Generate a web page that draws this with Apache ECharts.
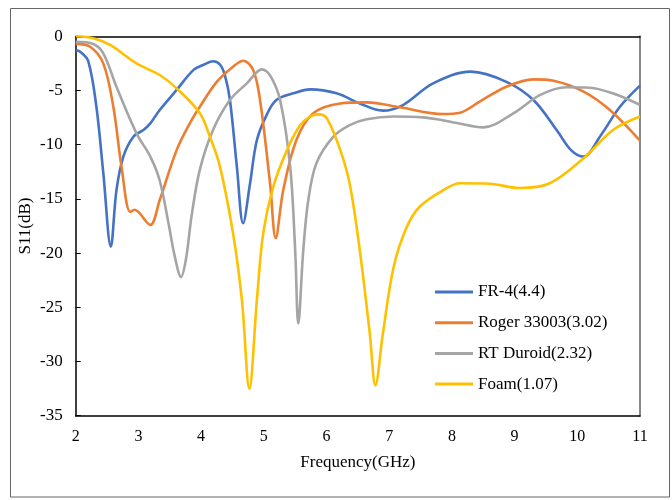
<!DOCTYPE html>
<html>
<head>
<meta charset="utf-8">
<script src="https://cdn.jsdelivr.net/npm/echarts@6/dist/echarts.min.js"></script>
<style>html,body{margin:0;padding:0;background:#fff}#c{width:672px;height:500px}</style>
</head>
<body>
<div id="c"></div>
<script>
var seriesNames = ['FR-4(4.4)', 'Roger 33003(3.02)', 'RT Duroid(2.32)', 'Foam(1.07)'];
var xTicks = [2, 3, 4, 5, 6, 7, 8, 9, 10, 11];
var yTicks = [0, -5, -10, -15, -20, -25, -30, -35];

var fr4Freq = [2, 2.07, 2.2, 2.33, 2.44, 2.56, 2.65, 2.76, 2.92, 3.08, 3.19, 3.34, 3.61, 3.88, 4.05, 4.19, 4.3, 4.38, 4.46, 4.57, 4.67, 4.78, 4.89, 5.05, 5.2, 5.47, 5.74, 6.16, 6.53, 6.9, 7.22, 7.7, 8.3, 8.87, 9.3, 9.67, 9.9, 10.1, 10.36, 10.68, 11];
var fr4Val  = [-1.3, -1.42, -2.3, -6.5, -12.6, -19.4, -14.2, -11.1, -9.26, -8.64, -8.03, -6.8, -4.95, -3.1, -2.6, -2.3, -2.6, -3.6, -5.88, -12, -17.25, -13.6, -9.57, -7.2, -5.88, -5.26, -4.9, -5.26, -6.2, -6.86, -6.34, -4.34, -3.26, -4.2, -5.88, -8.64, -10.5, -11.1, -9.26, -6.5, -4.55];

var rogFreq = [2, 2.23, 2.44, 2.6, 2.73, 2.87, 2.94, 3.0, 3.19, 3.34, 3.61, 3.82, 3.98, 4.25, 4.51, 4.67, 4.83, 4.94, 5.1, 5.19, 5.31, 5.52, 5.79, 6.22, 6.64, 7.17, 7.86, 8.13, 8.45, 8.87, 9.3, 9.62, 10.1, 10.52, 11];
var rogVal  = [-0.7, -0.96, -2.5, -6.5, -12, -16.2, -16.0, -16.2, -17.4, -15.1, -10.5, -8.03, -6.5, -4.2, -2.8, -2.25, -3.1, -5.88, -13.6, -18.6, -14.2, -9.57, -7.1, -6.2, -6.1, -6.55, -7.17, -7.05, -6.0, -4.65, -3.97, -4.1, -5.1, -6.8, -9.63];

var rtFreq = [2, 2.28, 2.44, 2.65, 2.97, 3.19, 3.34, 3.48, 3.58, 3.68, 3.76, 3.85, 3.98, 4.19, 4.46, 4.73, 4.97, 5.1, 5.26, 5.42, 5.5, 5.55, 5.63, 5.71, 5.84, 6.11, 6.37, 6.64, 7.07, 7.54, 7.81, 8.08, 8.5, 8.98, 9.41, 9.83, 10.2, 10.63, 11];
var rtVal  = [-0.5, -0.71, -1.57, -4.65, -8.95, -11.1, -13.3, -17.25, -20.3, -22.2, -20.5, -16.5, -12.3, -8.64, -5.88, -4.34, -3.05, -3.6, -5.88, -12, -19.7, -26.5, -19.7, -15.1, -11.7, -9.26, -8.2, -7.66, -7.4, -7.48, -7.7, -8.0, -8.4, -7.1, -5.4, -4.7, -4.74, -5.4, -6.34];

var foamFreq = [2, 2.28, 2.55, 2.97, 3.34, 3.61, 3.98, 4.14, 4.3, 4.51, 4.65, 4.77, 4.89, 4.99, 5.15, 5.37, 5.58, 5.78, 5.9, 6.02, 6.22, 6.37, 6.53, 6.69, 6.78, 6.9, 7.07, 7.28, 7.49, 7.86, 8.13, 8.6, 9.08, 9.56, 10.1, 10.57, 11];
var foamVal  = [0, -0.18, -0.8, -2.5, -3.57, -4.8, -7.1, -9.26, -12, -18.2, -24.3, -32.5, -24.3, -18.2, -13.9, -10.5, -8.2, -7.3, -7.2, -7.7, -10.5, -13.6, -19.7, -27.4, -32.2, -27.4, -21.3, -17.6, -15.7, -14.2, -13.56, -13.6, -14.0, -13.56, -11.25, -8.64, -7.4];

var colors = ['#4472C4', '#ED7D31', '#A5A5A5', '#FFC000'];
function pairs(xs, ys) { return xs.map(function (x, i) { return [x, ys[i]]; }); }
var allData = [pairs(fr4Freq, fr4Val), pairs(rogFreq, rogVal), pairs(rtFreq, rtVal), pairs(foamFreq, foamVal)];

var font = 'Liberation Serif, Times New Roman, serif';
var chart = echarts.init(document.getElementById('c'), null, {renderer: 'canvas'});
var option = {
  animation: false,
  backgroundColor: '#fff',
  color: colors,
  grid: {left: 75.7, right: 32, top: 36.3, bottom: 84.3, containLabel: false},
  graphic: [{
    type: 'rect', shape: {x: 10.5, y: 8.5, width: 659, height: 488.5},
    style: {fill: 'none', stroke: '#666', lineWidth: 1}, z: -1
  }],
  legend: {
    orient: 'vertical', left: 435, top: 282, padding: 0,
    icon: 'rect', itemWidth: 38, itemHeight: 3, itemGap: 10.7,
    textStyle: {fontFamily: font, fontSize: 17, color: '#000', lineHeight: 20},
    data: seriesNames.map(function (n, i) { return {name: n, itemStyle: {color: colors[i]}}; })
  },
  xAxis: [{
    type: 'value', min: 2, max: 11, interval: 1,
    name: 'Frequency(GHz)', nameLocation: 'middle', nameGap: 38, nameMoveOverlap: false,
    nameTextStyle: {fontFamily: font, fontSize: 17, color: '#000'},
    axisLine: {show: true, onZero: false, lineStyle: {color: '#000', width: 1.5}},
    axisTick: {show: false},
    axisLabel: {fontFamily: font, fontSize: 16, color: '#000', margin: 13,
      formatter: function (v) { return xTicks.indexOf(v) >= 0 ? String(v) : ''; }},
    splitLine: {show: false}
  }, {
    type: 'value', min: 2, max: 11, position: 'top',
    axisLine: {show: true, onZero: false, lineStyle: {color: '#000', width: 1.5}},
    axisTick: {show: false}, axisLabel: {show: false}, splitLine: {show: false}
  }],
  yAxis: [{
    type: 'value', min: -35, max: 0, interval: 5,
    name: 'S11(dB)', nameLocation: 'middle', nameGap: 42, nameRotate: 90, nameMoveOverlap: false,
    nameTextStyle: {fontFamily: font, fontSize: 17, color: '#000'},
    axisLine: {show: true, onZero: false, lineStyle: {color: '#000', width: 1.5}},
    axisTick: {show: true, inside: true, length: 5, lineStyle: {color: '#000'}},
    axisLabel: {fontFamily: font, fontSize: 17, color: '#000', margin: 13,
      formatter: function (v) { return yTicks.indexOf(v) >= 0 ? String(v) : ''; }},
    splitLine: {show: false}
  }, {
    type: 'value', min: -35, max: 0, position: 'right',
    axisLine: {show: true, onZero: false, lineStyle: {color: '#888', width: 2}},
    axisTick: {show: false}, axisLabel: {show: false}, splitLine: {show: false}
  }],
  series: seriesNames.map(function (n, i) {
    return {
      name: n, type: 'line', data: allData[i], smooth: 0.35,
      symbol: 'none', showSymbol: false,
      lineStyle: {width: 2.6, color: colors[i]}, itemStyle: {color: colors[i]},
      z: 2 + i
    };
  })
};
chart.setOption(option);
</script>
</body>
</html>
